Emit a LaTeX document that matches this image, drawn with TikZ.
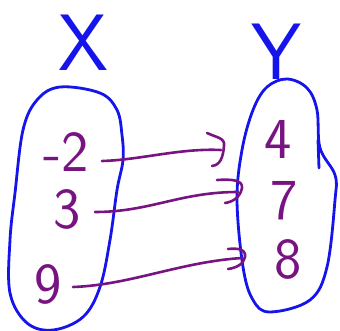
\documentclass[tikz,border=0pt]{standalone}
\usepackage{fontspec}
\definecolor{penblue}{RGB}{20,20,235}
\definecolor{penpurple}{RGB}{120,20,130}
\tikzset{
  blob/.style={draw=penblue, line width=2.8pt, line join=round, line cap=round},
  setname/.style={text=penblue, font=\sffamily\fontsize{80}{80}\selectfont, inner sep=0pt,
    text height=55pt, text depth=0pt},
  elem/.style={text=penpurple, font=\sffamily\fontsize{58}{58}\selectfont, inner sep=0pt,
    text height=40pt, text depth=0pt},
  maparrow/.style={draw=penpurple, line width=2.6pt, line cap=round, line join=round},
}
\begin{document}
\begin{tikzpicture}[x=1pt,y=-1pt]
\useasboundingbox (0,0) rectangle (340,331);
% set labels
\node[setname] (X) at (83,43) {X};
\node[setname] (Y) at (276,52) {Y};
% left set
\draw[blob] plot[smooth cycle, tension=0.6] coordinates {
 (60,87) (100,93) (117,110) (122,135) (123,160) (117,190) (110,240)
 (100,287) (83,317) (53,330) (27,323) (10,293) (10,240) (15,193) (23,130) (37,100)};
% right set
\draw[blob] plot[smooth cycle, tension=0.6] coordinates {
 (287,79) (307,88) (317,110) (320,148) (335,175) (335,200) (327,267)
 (310,300) (270,312) (253,300) (243,267) (237,200) (242,150) (253,110) (267,87)};
\draw[blob] (318,140) -- (319,168);
% elements
\node[elem] (a) at (66,152) {-2};
\node[elem] (b) at (67,209) {3};
\node[elem] (c) at (48,283) {9};
\node[elem] (p) at (278,139) {4};
\node[elem] (q) at (284,200) {7};
\node[elem] (r) at (288,258) {8};
% arrow shafts
\coordinate (a0) at (102,161);
\coordinate (a1) at (221,150);
\coordinate (b0) at (95,212);
\coordinate (b1) at (238,192);
\coordinate (c0) at (73,287);
\coordinate (c1) at (242,258);
\draw[maparrow] (a0) .. controls (140,160) and (180,148) .. (a1);
\draw[maparrow] (b0) .. controls (150,212) and (180,192) .. (b1);
\draw[maparrow] (c0) .. controls (130,285) and (180,262) .. (c1);
% hand-drawn arrow heads
\coordinate (ah1) at (207,133); \coordinate (ah2) at (224,146); \coordinate (ah3) at (212,166);
\coordinate (bh1) at (217,180); \coordinate (bh2) at (242,188); \coordinate (bh3) at (225,203);
\coordinate (ch1) at (228,249); \coordinate (ch2) at (245,257); \coordinate (ch3) at (228,269);
\draw[maparrow] (ah1) .. controls (218,138) and (225,138) .. (ah2) .. controls (223,158) and (220,165) .. (ah3);
\draw[maparrow] (bh1) .. controls (232,179) and (243,180) .. (bh2) .. controls (240,198) and (232,202) .. (bh3);
\draw[maparrow] (ch1) .. controls (238,248) and (246,249) .. (ch2) .. controls (244,264) and (236,268) .. (ch3);
\end{tikzpicture}
\end{document}
